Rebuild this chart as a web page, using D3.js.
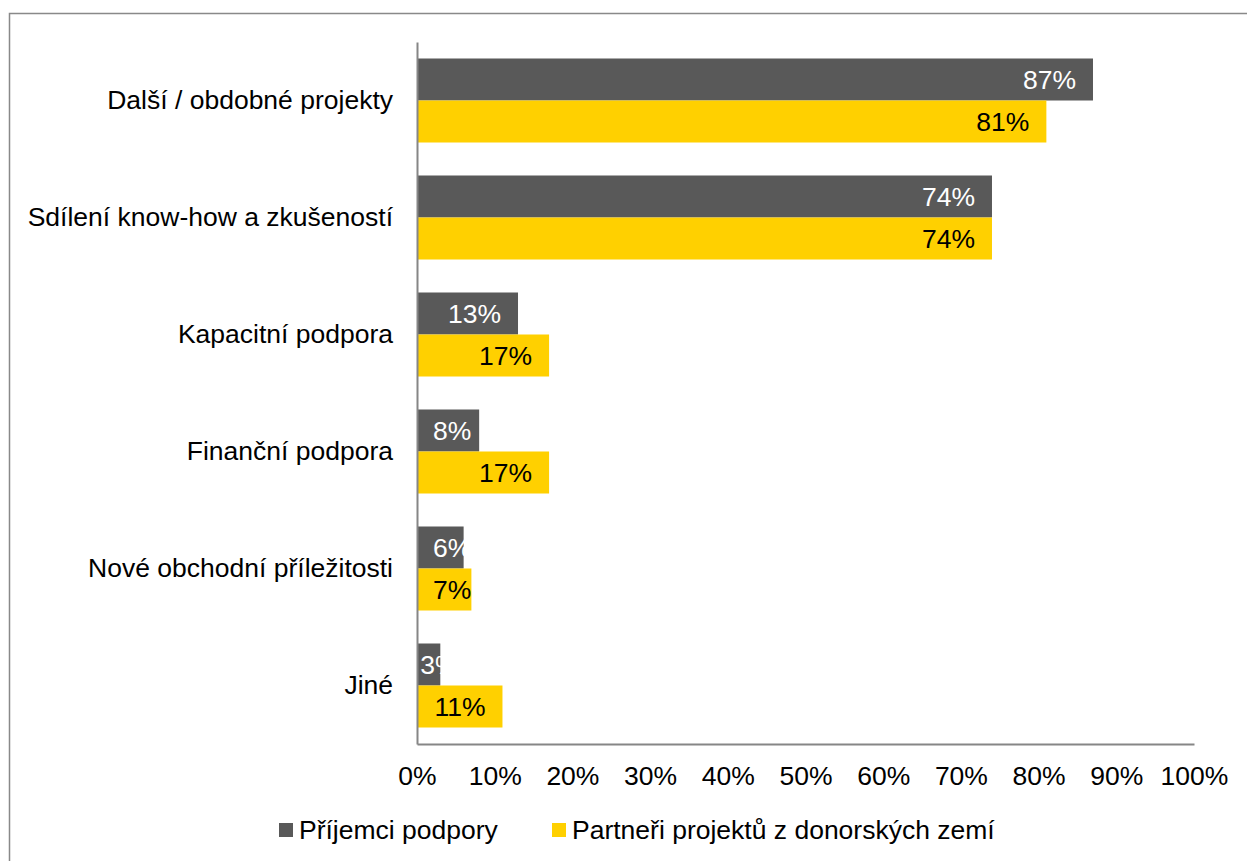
<!DOCTYPE html>
<html>
<head>
<meta charset="utf-8">
<script src="https://cdn.jsdelivr.net/npm/d3@7"></script>
<style>
  body { margin: 0; background: #fff; }
  svg { display: block; font-family: "Liberation Sans", Arial, sans-serif; }
</style>
</head>
<body>
<div id="chart"></div>
<script>
// chart data
var categories = ["Další / obdobné projekty", "Sdílení know-how a zkušeností", "Kapacitní podpora",
    "Finanční podpora", "Nové obchodní příležitosti", "Jiné"];
var seriesNames = ["Příjemci podpory", "Partneři projektů z donorských zemí"];
var prijemci = [87, 74, 13, 8, 6, 3];
var partneri = [81, 74, 17, 17, 7, 11];
var xTicks = [0, 10, 20, 30, 40, 50, 60, 70, 80, 90, 100];

var colors = ["#595959", "#FFD000"];
var labelColors = ["#ffffff", "#000000"];

var w = 1247, h = 861;
// plot area (note: "top" is a reserved window global, so use other names)
var plotLeft = 417, plotRight = 1194, plotTop = 42, plotBottom = 744;
var fontSize = 26.5;

var svg = d3.select("#chart")
    .append("svg")
    .attr("width", w)
    .attr("height", h);

// outer frame (runs off the right and bottom edges)
svg.append("rect")
    .attr("x", 9.5)
    .attr("y", 13.5)
    .attr("width", w + 20)
    .attr("height", h + 20)
    .attr("fill", "none")
    .attr("stroke", "#898989")
    .attr("stroke-width", 1.5);

var xScale = d3.scaleLinear().domain([0, 100]).range([plotLeft, plotRight]);

var yScale = d3.scaleBand()
    .domain(categories)
    .range([plotTop, plotBottom])
    .paddingInner(0.282)
    .paddingOuter(0.141);

var subScale = d3.scaleBand()
    .domain([0, 1])
    .range([0, yScale.bandwidth()]);

// rows of bar data
var rows = [];
categories.forEach(function (c, i) {
    rows.push({ cat: c, s: 0, value: prijemci[i] });
    rows.push({ cat: c, s: 1, value: partneri[i] });
});

svg.selectAll("rect.bar")
    .data(rows)
    .enter()
    .append("rect")
    .attr("class", "bar")
    .attr("x", xScale(0))
    .attr("y", function (d) { return yScale(d.cat) + subScale(d.s); })
    .attr("width", function (d) { return xScale(d.value) - xScale(0); })
    .attr("height", subScale.bandwidth())
    .attr("fill", function (d) { return colors[d.s]; });

// value labels, inside end of bar (pushed to the base when they don't fit)
var labels = svg.selectAll("text.val")
    .data(rows)
    .enter()
    .append("text")
    .attr("class", "val")
    .text(function (d) { return d.value + "%"; })
    .attr("y", function (d) { return yScale(d.cat) + subScale(d.s) + subScale.bandwidth() / 2; })
    .attr("dy", "0.35em")
    .attr("font-size", fontSize)
    .attr("fill", function (d) { return labelColors[d.s]; });

labels.attr("x", function (d) {
    var tw = this.getComputedTextLength();
    var barW = xScale(d.value) - xScale(0);
    var minX = xScale(0) + Math.max(3, Math.min(16, barW - 20));
    return Math.max(xScale(d.value) - 17 - tw, minX);
});

// axes
var xAxis = d3.axisBottom(xScale)
    .tickValues(xTicks)
    .tickSize(0)
    .tickPadding(22)
    .tickFormat(function (d) { return d + "%"; });

var gx = svg.append("g")
    .attr("transform", "translate(0," + plotBottom + ")")
    .call(xAxis);
gx.select(".domain").attr("stroke", "#868686").attr("stroke-width", 2);
gx.selectAll("text")
    .attr("font-size", fontSize)
    .attr("font-family", "Liberation Sans, Arial, sans-serif")
    .attr("fill", "#000");

var yAxis = d3.axisLeft(yScale)
    .tickSize(0)
    .tickPadding(24);

var gy = svg.append("g")
    .attr("transform", "translate(" + plotLeft + ",0)")
    .call(yAxis);
gy.select(".domain").attr("stroke", "#868686").attr("stroke-width", 2);
gy.selectAll("text")
    .attr("font-size", fontSize)
    .attr("font-family", "Liberation Sans, Arial, sans-serif")
    .attr("fill", "#000");

// legend
var legendX = [279, 552];
var legend = svg.selectAll("g.legend")
    .data(seriesNames)
    .enter()
    .append("g")
    .attr("class", "legend")
    .attr("transform", function (d, i) { return "translate(" + legendX[i] + ",823)"; });

legend.append("rect")
    .attr("width", 14)
    .attr("height", 14)
    .attr("fill", function (d, i) { return colors[i]; });

legend.append("text")
    .text(function (d) { return d; })
    .attr("x", 20)
    .attr("y", 7)
    .attr("dy", "0.35em")
    .attr("font-size", fontSize)
    .attr("fill", "#000");
</script>
</body>
</html>
